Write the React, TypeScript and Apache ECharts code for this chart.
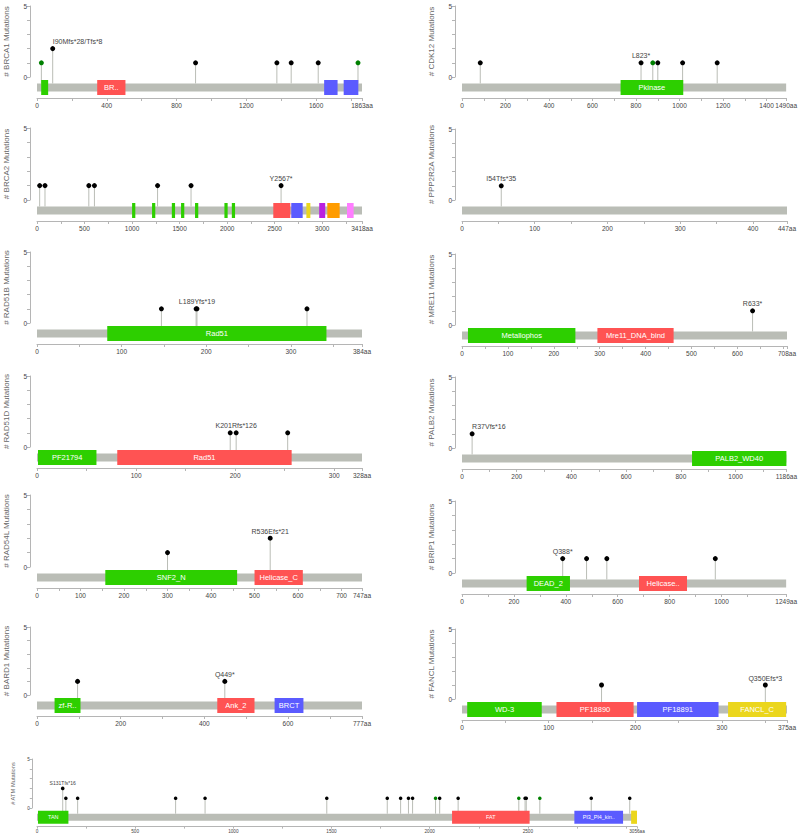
import React, { useEffect, useRef } from 'react';
import * as echarts from 'echarts';

// ---------------- data ----------------
const GENES = ['BRCA1', 'CDK12', 'BRCA2', 'PPP2R2A', 'RAD51B', 'MRE11', 'RAD51D', 'PALB2', 'RAD54L', 'BRIP1', 'BARD1', 'FANCL', 'ATM'];
const PROTEIN_LENGTHS = [1863, 1490, 3418, 447, 384, 708, 328, 1186, 747, 1249, 777, 375, 3056];
const TICK_STEPS = [200, 100, 250, 50, 50, 50, 50, 100, 50, 100, 100, 50, 250];
const LABEL_STEPS = [400, 200, 500, 100, 100, 100, 100, 200, 100, 200, 200, 100, 500];
const Y_TICK_LABELS = [0, 5];

// mutations: [position, count, type, label]
const BRCA1_MUTATIONS = [
  [25, 1, 'missense', ''],
  [90, 2, 'truncating', 'I90Mfs*28/Tfs*8'],
  [909, 1, 'truncating', ''],
  [1375, 1, 'truncating', ''],
  [1457, 1, 'truncating', ''],
  [1612, 1, 'truncating', ''],
  [1840, 1, 'missense', ''],
];
const CDK12_MUTATIONS = [
  [84, 1, 'truncating', ''],
  [823, 1, 'truncating', 'L823*'],
  [877, 1, 'missense', ''],
  [900, 1, 'truncating', ''],
  [1014, 1, 'truncating', ''],
  [1173, 1, 'truncating', ''],
];
const BRCA2_MUTATIONS = [
  [28, 1, 'truncating', ''],
  [84, 1, 'truncating', ''],
  [545, 1, 'truncating', ''],
  [604, 1, 'truncating', ''],
  [1268, 1, 'truncating', ''],
  [1620, 1, 'truncating', ''],
  [2567, 1, 'truncating', 'Y2567*'],
];
const PPP2R2A_MUTATIONS = [[54, 1, 'truncating', 'I54Tfs*35']];
const RAD51B_MUTATIONS = [
  [147, 1, 'truncating', ''],
  [188, 1, 'truncating', ''],
  [189, 1, 'truncating', 'L189Yfs*19'],
  [319, 1, 'truncating', ''],
];
const MRE11_MUTATIONS = [[633, 1, 'truncating', 'R633*']];
const RAD51D_MUTATIONS = [
  [195, 1, 'truncating', ''],
  [201, 1, 'truncating', 'K201Rfs*126'],
  [253, 1, 'truncating', ''],
];
const PALB2_MUTATIONS = [[37, 1, 'truncating', 'R37Vfs*16']];
const RAD54L_MUTATIONS = [
  [300, 1, 'truncating', ''],
  [536, 2, 'truncating', 'R536Efs*21'],
];
const BRIP1_MUTATIONS = [
  [388, 1, 'truncating', 'Q388*'],
  [480, 1, 'truncating', ''],
  [558, 1, 'truncating', ''],
  [976, 1, 'truncating', ''],
];
const BARD1_MUTATIONS = [
  [97, 1, 'truncating', ''],
  [449, 1, 'truncating', 'Q449*'],
];
const FANCL_MUTATIONS = [
  [161, 1, 'truncating', ''],
  [350, 1, 'truncating', 'Q350Efs*3'],
];
const ATM_MUTATIONS = [
  [131, 2, 'truncating', 'S131Tfs*16'],
  [147, 1, 'truncating', ''],
  [207, 1, 'truncating', ''],
  [706, 1, 'truncating', ''],
  [856, 1, 'truncating', ''],
  [1476, 1, 'truncating', ''],
  [1784, 1, 'truncating', ''],
  [1852, 1, 'truncating', ''],
  [1892, 1, 'truncating', ''],
  [1913, 1, 'truncating', ''],
  [2030, 1, 'missense', ''],
  [2051, 1, 'truncating', ''],
  [2145, 1, 'truncating', ''],
  [2454, 1, 'missense', ''],
  [2486, 1, 'truncating', ''],
  [2492, 1, 'truncating', ''],
  [2561, 1, 'missense', ''],
  [2823, 1, 'truncating', ''],
  [3019, 1, 'truncating', ''],
];

// domains: [start, end, pfam, shown label]
const BRCA1_DOMAINS = [
  [24, 64, 'zf-C3HC4', ''],
  [345, 507, 'BRCA1_serine', 'BR..'],
  [1646, 1723, 'BRCT', ''],
  [1758, 1842, 'BRCT', ''],
];
const CDK12_DOMAINS = [[729, 1017, 'Pkinase', 'Pkinase']];
const BRCA2_DOMAINS = [
  [1000, 1034, 'BRCA2', ''],
  [1210, 1244, 'BRCA2', ''],
  [1418, 1452, 'BRCA2', ''],
  [1515, 1549, 'BRCA2', ''],
  [1662, 1696, 'BRCA2', ''],
  [1971, 2005, 'BRCA2', ''],
  [2049, 2083, 'BRCA2', ''],
  [2485, 2664, 'BRCA-2_helical', ''],
  [2674, 2794, 'BRCA-2_OB1', ''],
  [2833, 2875, 'Tower', ''],
  [2968, 3031, 'BRCA-2_OB3', ''],
  [3053, 3183, 'BRCA2_OB2', ''],
  [3260, 3330, 'BRCA2_TR2', ''],
];
const PPP2R2A_DOMAINS = [];
const RAD51B_DOMAINS = [[83, 342, 'Rad51', 'Rad51']];
const MRE11_DOMAINS = [
  [13, 247, 'Metallophos', 'Metallophos'],
  [295, 461, 'Mre11_DNA_bind', 'Mre11_DNA_bind'],
];
const RAD51D_DOMAINS = [
  [1, 60, 'PF21794', 'PF21794'],
  [81, 257, 'Rad51', 'Rad51'],
];
const PALB2_DOMAINS = [[841, 1186, 'PALB2_WD40', 'PALB2_WD40']];
const RAD54L_DOMAINS = [
  [157, 460, 'SNF2_N', 'SNF2_N'],
  [500, 611, 'Helicase_C', 'Helicase_C'],
];
const BRIP1_DOMAINS = [
  [249, 416, 'DEAD_2', 'DEAD_2'],
  [682, 867, 'Helicase_C_2', 'Helicase..'],
];
const BARD1_DOMAINS = [
  [42, 104, 'zf-RING_UBOX', 'zf-R..'],
  [431, 520, 'Ank_2', 'Ank_2'],
  [568, 637, 'BRCT', 'BRCT'],
];
const FANCL_DOMAINS = [
  [6, 92, 'WD-3', 'WD-3'],
  [109, 198, 'PF18890', 'PF18890'],
  [202, 296, 'PF18891', 'PF18891'],
  [307, 374, 'FANCL_C', 'FANCL_C'],
];
const ATM_DOMAINS = [
  [5, 160, 'TAN', 'TAN'],
  [2114, 2509, 'FAT', 'FAT'],
  [2737, 2985, 'PI3_PI4_kinase', 'PI3_PI4_kin..'],
  [3026, 3056, 'FATC', ''],
];

const MUTATIONS = [
  BRCA1_MUTATIONS, CDK12_MUTATIONS, BRCA2_MUTATIONS, PPP2R2A_MUTATIONS, RAD51B_MUTATIONS,
  MRE11_MUTATIONS, RAD51D_MUTATIONS, PALB2_MUTATIONS, RAD54L_MUTATIONS, BRIP1_MUTATIONS,
  BARD1_MUTATIONS, FANCL_MUTATIONS, ATM_MUTATIONS,
];
const DOMAINS = [
  BRCA1_DOMAINS, CDK12_DOMAINS, BRCA2_DOMAINS, PPP2R2A_DOMAINS, RAD51B_DOMAINS,
  MRE11_DOMAINS, RAD51D_DOMAINS, PALB2_DOMAINS, RAD54L_DOMAINS, BRIP1_DOMAINS,
  BARD1_DOMAINS, FANCL_DOMAINS, ATM_DOMAINS,
];

// ---------------- layout / style ----------------
// [left, top (y of 5), width, zero line y]
const PANEL_BOX = [
  [37, 6, 325, 77], [462, 6, 325, 77],
  [37, 128, 325, 200], [462, 129, 325, 200],
  [37, 252, 325, 323], [462, 254, 325, 325],
  [37, 376, 325, 447], [462, 377, 325, 448],
  [37, 495, 325, 567], [462, 501, 325, 573],
  [37, 627, 325, 695], [462, 629, 325, 699],
  [37, 759, 600, 808],
];
const FONT = '"Liberation Sans", Arial, Helvetica, sans-serif';
const DOMAIN_COLORS = ['#2dcf00', '#ff5353', '#5b5bff', '#ebd61d', '#ba21e0', '#ff9c00', '#ff7dff'];
const BACKBONE = '#babdb6';
const AXIS = '#b5b5b5';
const TEXT = '#444';
const MUT_COLORS = { missense: '#008000', truncating: '#000000' };

function buildOption() {
  const grid: any[] = [];
  const xAxis: any[] = [];
  const yAxis: any[] = [];
  const series: any[] = [];
  GENES.forEach((gene, i) => {
    const [left, top, width, zero] = PANEL_BOX[i];
    const isSmall = i === 12;
    const s = isSmall ? 0.72 : 1; // font / horizontal scale
    const sv = isSmall ? 0.88 : 1; // vertical scale of protein track
    const len = PROTEIN_LENGTHS[i];
    const labelStep = LABEL_STEPS[i];
    grid.push({ left, top, width, height: zero - top });
    xAxis.push({
      type: 'value', gridIndex: i, min: 0, max: len, interval: TICK_STEPS[i],
      position: 'bottom', offset: 21 * sv,
      axisLine: { show: true, onZero: false, lineStyle: { color: AXIS, width: 1 } },
      axisTick: { show: true, length: 3 * s, lineStyle: { color: AXIS } },
      splitLine: { show: false },
      axisLabel: {
        showMinLabel: true, showMaxLabel: true, fontSize: 6.5 * s, color: TEXT, fontFamily: FONT, margin: 4 * s,
        formatter: (v: number) => {
          if (v === len) return len + 'aa';
          if (v % labelStep !== 0) return '';
          if (((len - v) / len) * width < 12) return '';
          return String(v);
        },
      },
    });
    yAxis.push({
      type: 'value', gridIndex: i, min: 0, max: 5, interval: 1, position: 'left', offset: 7 * s,
      axisLine: { show: true, onZero: false, lineStyle: { color: AXIS } },
      axisTick: { show: true, length: 3 * s, lineStyle: { color: AXIS } },
      splitLine: { show: false },
      axisLabel: {
        fontSize: 6.5 * s, color: TEXT, fontFamily: FONT, margin: 3 * s,
        formatter: (v: number) => (Y_TICK_LABELS.includes(v) ? String(v) : ''),
      },
      name: `# ${gene} Mutations`, nameLocation: 'middle', nameGap: 20 * s,
      nameTextStyle: { fontSize: 8 * s, color: '#666', fontFamily: FONT },
    });

    const muts = MUTATIONS[i];
    series.push({
      type: 'custom', xAxisIndex: i, yAxisIndex: i, z: 2, silent: true,
      data: muts.map((m) => [m[0], m[1]]),
      encode: { x: 0, y: 1 },
      renderItem: (params: any, api: any) => {
        const m = muts[params.dataIndex] as any[];
        const p = api.coord([api.value(0), api.value(1)]);
        const base = api.coord([api.value(0), 0]);
        const origin = api.coord([0, 0]);
        const end = api.coord([len, 0]);
        const children: any[] = [
          { type: 'line', shape: { x1: p[0], y1: p[1], x2: p[0], y2: base[1] + 6.5 * sv }, style: { stroke: BACKBONE, lineWidth: 1 } },
          { type: 'circle', shape: { cx: p[0], cy: p[1], r: 2.5 * s }, style: { fill: (MUT_COLORS as any)[m[2]] } },
        ];
        if (m[3]) {
          const fs = 7 * s;
          const w = m[3].length * fs * 0.56;
          let align = 'center';
          if (p[0] - w / 2 < origin[0]) align = 'left';
          else if (p[0] + w / 2 > end[0]) align = 'right';
          children.push({
            type: 'text', x: p[0], y: p[1] - 3.5 * s,
            style: { text: m[3], align, verticalAlign: 'bottom', fontSize: fs, fontFamily: FONT, fill: TEXT },
          });
        }
        return { type: 'group', children };
      },
    });

    const doms = DOMAINS[i];
    const pfams: string[] = [];
    doms.forEach((d) => { if (!pfams.includes(d[2] as string)) pfams.push(d[2] as string); });
    series.push({
      type: 'custom', xAxisIndex: i, yAxisIndex: i, z: 3, silent: true,
      data: [[0, len, 0], ...doms.map((d) => [d[0], d[1], 0])],
      encode: { x: [0, 1], y: 2 },
      renderItem: (params: any, api: any) => {
        const a = api.coord([api.value(0), 0]);
        const b = api.coord([api.value(1), 0]);
        if (params.dataIndex === 0) {
          return { type: 'rect', shape: { x: a[0], y: a[1] + 6.5 * sv, width: b[0] - a[0], height: 8 * sv }, style: { fill: BACKBONE } };
        }
        const d = doms[params.dataIndex - 1] as any[];
        const color = DOMAIN_COLORS[pfams.indexOf(d[2]) % DOMAIN_COLORS.length];
        const children: any[] = [
          { type: 'rect', shape: { x: a[0], y: a[1] + 3 * sv, width: b[0] - a[0], height: 15 * sv }, style: { fill: color } },
        ];
        if (d[3]) {
          children.push({
            type: 'text', x: (a[0] + b[0]) / 2, y: a[1] + 10.5 * sv,
            style: { text: d[3], align: 'center', verticalAlign: 'middle', fontSize: 7.5 * s, fontFamily: FONT, fill: '#ffffff' },
          });
        }
        return { type: 'group', children };
      },
    });
  });
  return { animation: false, backgroundColor: '#ffffff', grid, xAxis, yAxis, series };
}

export default function App() {
  const ref = useRef<HTMLDivElement>(null);
  useEffect(() => {
    if (!ref.current) return;
    const chart = echarts.init(ref.current, undefined, { renderer: 'svg' });
    chart.setOption(buildOption() as any);
    return () => chart.dispose();
  }, []);
  return <div ref={ref} style={{ position: 'fixed', left: 0, top: 0, width: 800, height: 838, background: '#fff' }} />;
}
